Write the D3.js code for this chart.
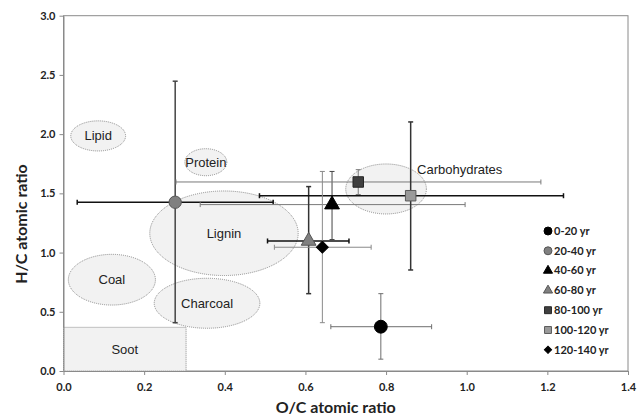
<!DOCTYPE html>
<html>
<head>
<meta charset="utf-8">
<script src="https://cdn.jsdelivr.net/npm/d3@7"></script>
<style>
  body { margin: 0; background: #fff; }
  svg { display: block; }
</style>
</head>
<body>
<div id="viz"><svg></svg></div>
<script>
const fullWidth = 637;
const fullHeight = 418;

// samples by age class
const series = ['0-20 yr', '20-40 yr', '40-60 yr', '60-80 yr', '80-100 yr', '100-120 yr', '120-140 yr'];
const oc = [0.787, 0.277, 0.666, 0.608, 0.731, 0.861, 0.642];
const hc = [0.374, 1.425, 1.405, 1.098, 1.596, 1.48, 1.045];
const ocLow = [0.663, 0.034, 0.339, 0.506, 0.279, 0.486, 0.523];
const ocHigh = [0.913, 0.52, 0.996, 0.708, 1.184, 1.24, 0.763];
const hcLow = [0.10, 0.408, 1.11, 0.653, 1.49, 0.853, 0.408];
const hcHigh = [0.653, 2.447, 1.685, 1.557, 1.70, 2.103, 1.685];

// reference compound regions (ellipses)
const regions = ['Lipid', 'Protein', 'Lignin', 'Coal', 'Charcoal', 'Carbohydrates'];
const regionOC = [0.086, 0.353, 0.398, 0.120, 0.356, 0.80];
const regionHC = [1.985, 1.763, 1.163, 0.771, 0.572, 1.537];
const regionOCr = [0.068, 0.052, 0.184, 0.108, 0.131, 0.100];
const regionHCr = [0.127, 0.114, 0.357, 0.214, 0.211, 0.211];
const sootOC = [0, 0.304];
const sootHC = [0, 0.369];

const xTicks = [0, 0.2, 0.4, 0.6, 0.8, 1.0, 1.2, 1.4];
const yTicks = [0, 0.5, 1.0, 1.5, 2.0, 2.5, 3.0];

const margin = { top: 15.7, right: 9, bottom: 47, left: 63.5 },
  width = fullWidth - margin.left - margin.right,
  height = fullHeight - margin.top - margin.bottom;

const svg = d3.select('#viz svg')
  .attr('width', fullWidth)
  .attr('height', fullHeight);

const x = d3.scaleLinear().domain([0, 1.4]).range([0, width]);
const y = d3.scaleLinear().domain([0, 3]).range([height, 0]);

const g = svg.append('g')
  .attr('transform', `translate(${margin.left},${margin.top})`);

const labelFont = '"Liberation Sans", Arial, sans-serif';
const axisFont = 'Lato, "Open Sans", sans-serif';

// plot frame
g.append('rect')
  .attr('width', width)
  .attr('height', height)
  .attr('fill', 'none')
  .attr('stroke', '#8a8a8a');

// soot box
g.append('rect')
  .attr('x', x(sootOC[0]))
  .attr('y', y(sootHC[1]))
  .attr('width', x(sootOC[1]) - x(sootOC[0]))
  .attr('height', y(sootHC[0]) - y(sootHC[1]))
  .attr('fill', '#f2f2f2')
  .attr('stroke', '#8a8a8a')
  .attr('stroke-dasharray', '1,1');
g.append('text')
  .attr('x', x((sootOC[0] + sootOC[1]) / 2))
  .attr('y', y((sootHC[0] + sootHC[1]) / 2))
  .attr('text-anchor', 'middle')
  .attr('dy', '0.35em')
  .style('font', `13px ${labelFont}`)
  .attr('fill', '#222')
  .text('Soot');

// ellipses
const regionData = regions.map((name, i) => ({
  name, cx: regionOC[i], cy: regionHC[i], rx: regionOCr[i], ry: regionHCr[i]
}));

g.selectAll('ellipse.region')
  .data(regionData)
  .enter().append('ellipse')
  .attr('class', 'region')
  .attr('cx', d => x(d.cx))
  .attr('cy', d => y(d.cy))
  .attr('rx', d => x(d.rx) - x(0))
  .attr('ry', d => y(0) - y(d.ry))
  .attr('fill', '#f2f2f2')
  .attr('stroke', '#8a8a8a')
  .attr('stroke-dasharray', '1,1');

g.selectAll('text.region')
  .data(regionData)
  .enter().append('text')
  .attr('class', 'region')
  .attr('x', d => d.name === 'Carbohydrates' ? x(d.cx) + 31 : x(d.cx))
  .attr('y', d => d.name === 'Carbohydrates' ? y(d.cy) - 20 : y(d.cy))
  .attr('dy', '0.35em')
  .attr('text-anchor', d => d.name === 'Carbohydrates' ? 'start' : 'middle')
  .style('font', `13px ${labelFont}`)
  .attr('fill', '#222')
  .text(d => d.name);

// error bars
const pts = series.map((name, i) => ({
  name, i, x: oc[i], y: hc[i], x0: ocLow[i], x1: ocHigh[i], y0: hcLow[i], y1: hcHigh[i]
}));

const xBarColor = ['#6e6e6e', '#111', '#7a7a7a', '#111', '#7a7a7a', '#111', '#8a8a8a'];
const xBarWidth = [1, 1.5, 1, 1.5, 1, 1.5, 1];
const yBarColor = ['#6e6e6e', '#444', '#444', '#333', '#7a7a7a', '#333', '#8a8a8a'];
const yBarWidth = [1, 1.5, 1, 1.5, 1, 1.5, 1];
const cap = 2.5;

const bars = g.append('g');
pts.forEach(d => {
  const hx = bars.append('g')
    .attr('stroke', xBarColor[d.i])
    .attr('stroke-width', xBarWidth[d.i]);
  hx.append('line')
    .attr('x1', x(d.x0)).attr('x2', x(d.x1))
    .attr('y1', y(d.y)).attr('y2', y(d.y));
  [d.x0, d.x1].forEach(v => hx.append('line')
    .attr('x1', x(v)).attr('x2', x(v))
    .attr('y1', y(d.y) - cap).attr('y2', y(d.y) + cap));

  const vy = bars.append('g')
    .attr('stroke', yBarColor[d.i])
    .attr('stroke-width', yBarWidth[d.i]);
  vy.append('line')
    .attr('x1', x(d.x)).attr('x2', x(d.x))
    .attr('y1', y(d.y0)).attr('y2', y(d.y1));
  [d.y0, d.y1].forEach(v => vy.append('line')
    .attr('x1', x(d.x) - cap).attr('x2', x(d.x) + cap)
    .attr('y1', y(v)).attr('y2', y(v)));
});

// markers
const symbolTypes = [d3.symbolCircle, d3.symbolCircle, d3.symbolTriangle, d3.symbolTriangle,
  d3.symbolSquare, d3.symbolSquare, d3.symbolSquare];
const fills = ['#000', '#808080', '#000', '#808080', '#404040', '#9a9a9a', '#000'];
const strokes = ['#000', '#555', '#000', '#555', '#262626', '#5a5a5a', '#000'];
const bigSizes = [130, 120, 95, 95, 110, 110, 70];
const smallSizes = [50, 50, 36, 36, 48, 48, 26];
const rotate = [0, 0, 0, 0, 0, 0, 45];

g.selectAll('path.pt')
  .data(pts)
  .enter().append('path')
  .attr('class', 'pt')
  .attr('d', d => d3.symbol().type(symbolTypes[d.i]).size(bigSizes[d.i])())
  .attr('transform', d => `translate(${x(d.x)},${y(d.y)}) rotate(${rotate[d.i]})`)
  .attr('fill', d => fills[d.i])
  .attr('stroke', d => strokes[d.i])
  .attr('stroke-width', 1);

// axes
const xAxis = g.append('g')
  .attr('transform', `translate(0,${height})`)
  .call(d3.axisBottom(x).tickValues(xTicks).tickFormat(d3.format('.1f')).tickSizeInner(4).tickSizeOuter(0));
const yAxis = g.append('g')
  .call(d3.axisLeft(y).tickValues(yTicks).tickFormat(d3.format('.1f')).tickSizeInner(4).tickSizeOuter(0));

[xAxis, yAxis].forEach(a => {
  a.select('.domain').attr('stroke', '#8a8a8a');
  a.selectAll('.tick line').attr('stroke', '#8a8a8a');
  a.selectAll('.tick text')
    .style('font', `bold 11px ${axisFont}`)
    .attr('fill', '#222');
});
xAxis.selectAll('.tick text').attr('dy', '1.2em');
yAxis.selectAll('.tick text').attr('x', -8);

svg.append('text')
  .attr('x', margin.left + width / 2 - 10)
  .attr('y', 413)
  .attr('text-anchor', 'middle')
  .style('font', `bold 16px ${axisFont}`)
  .attr('fill', '#222')
  .text('O/C atomic ratio');

svg.append('text')
  .attr('transform', `translate(27,224) rotate(-90)`)
  .attr('text-anchor', 'middle')
  .style('font', `bold 16px ${axisFont}`)
  .attr('fill', '#222')
  .text('H/C atomic ratio');

// legend
const legend = svg.append('g')
  .attr('transform', 'translate(548,231)');
const item = legend.selectAll('g')
  .data(pts)
  .enter().append('g')
  .attr('transform', d => `translate(0,${d.i * 19.8})`);
item.append('path')
  .attr('d', d => d3.symbol().type(symbolTypes[d.i]).size(smallSizes[d.i])())
  .attr('transform', d => `rotate(${rotate[d.i]})`)
  .attr('fill', d => fills[d.i])
  .attr('stroke', d => strokes[d.i]);
item.append('text')
  .attr('x', 6)
  .attr('dy', '0.35em')
  .style('font', `bold 11px ${axisFont}`)
  .attr('fill', '#222')
  .text(d => d.name);
</script>
</body>
</html>
